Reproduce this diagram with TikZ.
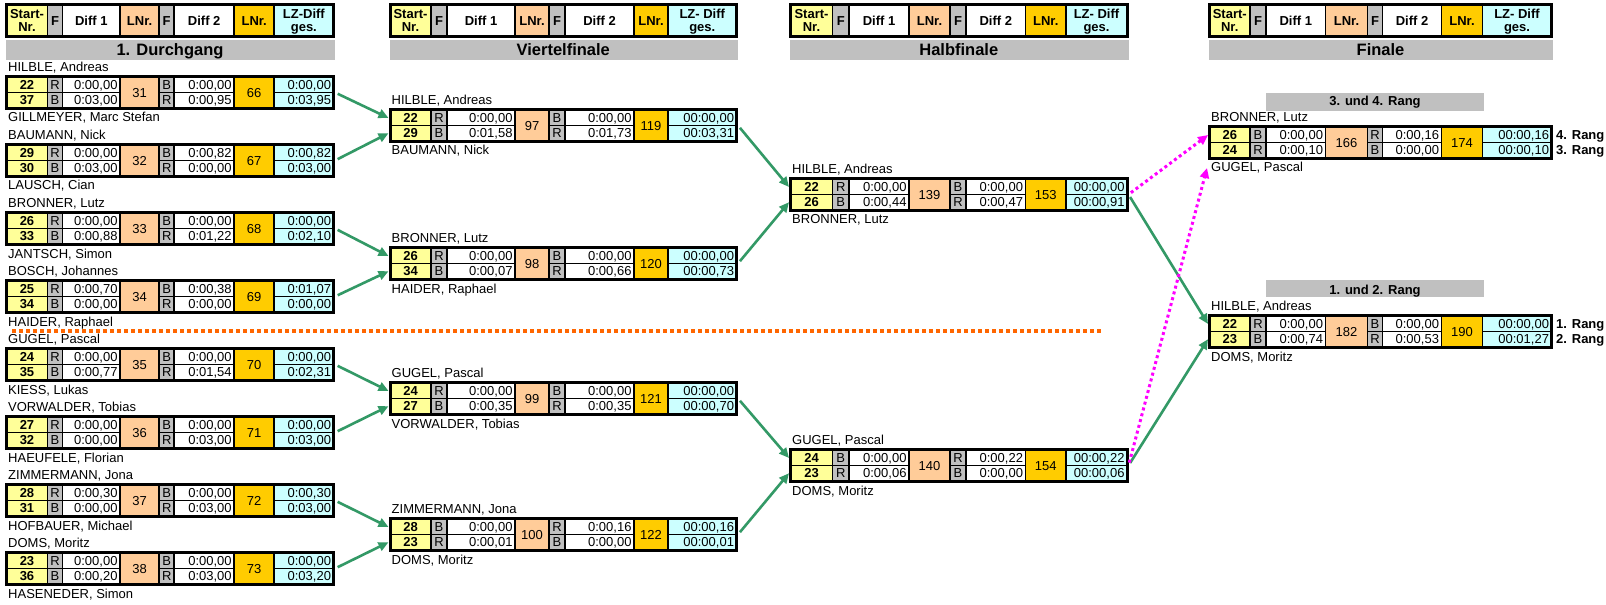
\documentclass[tikz,border=0pt]{standalone}
\usepackage{fontspec}
\setmainfont{Liberation Sans}
\usetikzlibrary{arrows.meta,calc}
\definecolor{cyel}{HTML}{FFFF99}
\definecolor{cgry}{HTML}{C0C0C0}
\definecolor{cora}{HTML}{FFCC99}
\definecolor{cgld}{HTML}{FFCC00}
\definecolor{ccya}{HTML}{CCFFFF}
\definecolor{cgrn}{HTML}{339966}
\definecolor{cmag}{HTML}{FF00FF}
\definecolor{corg}{HTML}{FF6600}
\newcommand\fsz{\fontsize{13bp}{14bp}\selectfont}
\newcommand\fst{\fontsize{16.5bp}{18bp}\selectfont\bfseries}
\newcommand\setcols[9]{\def\pXa{#1}\def\pXb{#2}\def\pXc{#3}\def\pXd{#4}\def\pXe{#5}\def\pXf{#6}\def\pXg{#7}\def\pXh{#8}\def\pXi{#9}}
\newcommand\cellfill[5]{\fill[#1] ({#2+0.75},{#4+0.75}) rectangle ({#3-0.75},{#5-0.75});}
\newcommand\mframe[2]{%
  \pgfmathsetmacro\pBw{\pXi-\pXa}%
  \node[fill=black, inner sep=0pt, outer sep=0pt, minimum width=\pBw bp, minimum height=35bp, anchor=north west] (#1) at (\pXa,#2) {};%
  \pgfmathsetmacro\pYl{\pXa+2.25}\pgfmathsetmacro\pYr{\pXi-2.25}%
  \pgfmathsetmacro\pYt{#2+2.25}\pgfmathsetmacro\pYb{#2+32.75}\pgfmathsetmacro\pYm{#2+17.5}%
}
\newcommand\rowfill[2]{%
  \cellfill{cyel}{\pYl}{\pXb}{#1}{#2}
  \cellfill{cgry}{\pXb}{\pXc}{#1}{#2}
  \cellfill{white}{\pXc}{\pXd}{#1}{#2}
  \cellfill{cgry}{\pXe}{\pXf}{#1}{#2}
  \cellfill{white}{\pXf}{\pXg}{#1}{#2}
  \cellfill{ccya}{\pXh}{\pYr}{#1}{#2}
}
\newcommand\mheader[3]{%
  \mframe{#1}{3}%
  \rowfill{\pYt}{\pYb}
  \cellfill{cora}{\pXd}{\pXe}{\pYt}{\pYb}
  \cellfill{cgld}{\pXg}{\pXh}{\pYt}{\pYb}
  \node[txtb,anchor=base] (#1-a1) at ({(\pXa+\pXb)/2+0.75},18.5) {Start-};
  \node[txtb,anchor=base] (#1-a2) at ({(\pXa+\pXb)/2+0.75},32) {Nr.};
  \node[txtb,anchor=base] (#1-b) at ({(\pXb+\pXc)/2},25.5) {F};
  \node[txtb,anchor=base] (#1-c) at ({(\pXc+\pXd)/2},25.5) {Diff 1};
  \node[txtb,anchor=base] (#1-d) at ({(\pXd+\pXe)/2},25.5) {LNr.};
  \node[txtb,anchor=base] (#1-e) at ({(\pXe+\pXf)/2},25.5) {F};
  \node[txtb,anchor=base] (#1-f) at ({(\pXf+\pXg)/2},25.5) {Diff 2};
  \node[txtb,anchor=base] (#1-g) at ({(\pXg+\pXh)/2},25.5) {LNr.};
  \node[txtb,anchor=base] (#1-h1) at ({(\pXh+\pXi)/2-0.75},18.5) {#3};
  \node[txtb,anchor=base] (#1-h2) at ({(\pXh+\pXi)/2-0.75},31.5) {ges.};
  \pgfmathsetmacro\pBw{\pXi-\pXa-1}%
  \node[fill=cgry, inner sep=0pt, outer sep=0pt, minimum width=\pBw bp, minimum height=20bp, anchor=north west] (#1-band) at ({\pXa+1},40) {};
  \node[inner sep=0pt, font=\fst, anchor=base] (#1-title) at ({(\pXa+\pXi)/2},56) {#2};
}
\newcommand\mblock[6]{%
  \mframe{#1}{#2}%
  \rowfill{\pYt}{\pYm}
  \rowfill{\pYm}{\pYb}
  \cellfill{cora}{\pXd}{\pXe}{\pYt}{\pYb}
  \cellfill{cgld}{\pXg}{\pXh}{\pYt}{\pYb}
  \node[txt, anchor=base west] (#1-n1) at ({\pXa+3},{#2-3.3}) {#3};
  \node[txt, anchor=base west] (#1-n2) at ({\pXa+3},{#2+47}) {#4};
  \node[txt, anchor=base] (#1-l1) at ({(\pXd+\pXe)/2},{#2+22.1}) {#5};
  \node[txt, anchor=base] (#1-l2) at ({(\pXg+\pXh)/2},{#2+22.1}) {#6};
}
\newcommand\mrow[9]{%
  \pgfmathsetmacro\pYy{#3+14.5+(#2-1)*15.2}%
  \node[txtb, anchor=base] (#1-s#2) at ({(\pXa+\pXb)/2+0.75},\pYy) {#4};
  \node[txt, anchor=base] (#1-f#2) at ({(\pXb+\pXc)/2},\pYy) {#5};
  \node[txt, anchor=base east] (#1-d#2) at ({\pXd-2.3},\pYy) {#6};
  \node[txt, anchor=base] (#1-g#2) at ({(\pXe+\pXf)/2},\pYy) {#7};
  \node[txt, anchor=base east] (#1-e#2) at ({\pXg-2.3},\pYy) {#8};
  \node[txt, anchor=base east] (#1-z#2) at ({\pXi-3.8},\pYy) {#9};
}
\tikzset{
  txt/.style={inner sep=0pt, font=\fsz},
  txtb/.style={inner sep=0pt, font=\fsz\bfseries},
  garr/.style={draw=cgrn, line width=2.6bp, -{Triangle[length=10bp,width=9bp]}, shorten <=3bp},
  marr/.style={draw=cmag, line width=3bp, dash pattern=on 3bp off 3bp, -{Triangle[length=10bp,width=9bp]}, shorten <=3bp},
  oline/.style={draw=corg, line width=3.7bp, dash pattern=on 4bp off 3bp},
  bandbox/.style={fill=cgry, inner sep=0pt, outer sep=0pt, minimum width=218bp, anchor=north west},
}
\begin{document}
\begin{tikzpicture}[x=1bp,y=-1bp]
\useasboundingbox (0,0) rectangle (1606,605);
\fill[white] (0,0) rectangle (1606,605);
% ---------- column 1
\setcols{5}{47.5}{62.5}{120}{159.2}{174.2}{234.2}{274.2}{335}
\mheader{hA}{1. Durchgang}{LZ-Diff}
\mblock{r31}{75}{HILBLE, Andreas}{GILLMEYER, Marc Stefan}{31}{66}
\mrow{r31}{1}{75}{22}{R}{0:00,00}{B}{0:00,00}{0:00,00}
\mrow{r31}{2}{75}{37}{B}{0:03,00}{R}{0:00,95}{0:03,95}
\mblock{r32}{143}{BAUMANN, Nick}{LAUSCH, Cian}{32}{67}
\mrow{r32}{1}{143}{29}{R}{0:00,00}{B}{0:00,82}{0:00,82}
\mrow{r32}{2}{143}{30}{B}{0:03,00}{R}{0:00,00}{0:03,00}
\mblock{r33}{211}{BRONNER, Lutz}{JANTSCH, Simon}{33}{68}
\mrow{r33}{1}{211}{26}{R}{0:00,00}{B}{0:00,00}{0:00,00}
\mrow{r33}{2}{211}{33}{B}{0:00,88}{R}{0:01,22}{0:02,10}
\mblock{r34}{279}{BOSCH, Johannes}{HAIDER, Raphael}{34}{69}
\mrow{r34}{1}{279}{25}{R}{0:00,70}{B}{0:00,38}{0:01,07}
\mrow{r34}{2}{279}{34}{B}{0:00,00}{R}{0:00,00}{0:00,00}
\mblock{r35}{347}{GUGEL, Pascal}{KIESS, Lukas}{35}{70}
\mrow{r35}{1}{347}{24}{R}{0:00,00}{B}{0:00,00}{0:00,00}
\mrow{r35}{2}{347}{35}{B}{0:00,77}{R}{0:01,54}{0:02,31}
\mblock{r36}{415}{VORWALDER, Tobias}{HAEUFELE, Florian}{36}{71}
\mrow{r36}{1}{415}{27}{R}{0:00,00}{B}{0:00,00}{0:00,00}
\mrow{r36}{2}{415}{32}{B}{0:00,00}{R}{0:03,00}{0:03,00}
\mblock{r37}{483}{ZIMMERMANN, Jona}{HOFBAUER, Michael}{37}{72}
\mrow{r37}{1}{483}{28}{R}{0:00,30}{B}{0:00,00}{0:00,30}
\mrow{r37}{2}{483}{31}{B}{0:00,00}{R}{0:03,00}{0:03,00}
\mblock{r38}{551}{DOMS, Moritz}{HASENEDER, Simon}{38}{73}
\mrow{r38}{1}{551}{23}{R}{0:00,00}{B}{0:00,00}{0:00,00}
\mrow{r38}{2}{551}{36}{B}{0:00,20}{R}{0:03,00}{0:03,20}
% ---------- column 2
\setcols{388.5}{431}{447}{515}{549}{565}{634}{668}{738}
\mheader{hB}{Viertelfinale}{LZ- Diff}
\mblock{q97}{108}{HILBLE, Andreas}{BAUMANN, Nick}{97}{119}
\mrow{q97}{1}{108}{22}{R}{0:00,00}{B}{0:00,00}{00:00,00}
\mrow{q97}{2}{108}{29}{B}{0:01,58}{R}{0:01,73}{00:03,31}
\mblock{q98}{246}{BRONNER, Lutz}{HAIDER, Raphael}{98}{120}
\mrow{q98}{1}{246}{26}{R}{0:00,00}{B}{0:00,00}{00:00,00}
\mrow{q98}{2}{246}{34}{B}{0:00,07}{R}{0:00,66}{00:00,73}
\mblock{q99}{381}{GUGEL, Pascal}{VORWALDER, Tobias}{99}{121}
\mrow{q99}{1}{381}{24}{R}{0:00,00}{B}{0:00,00}{00:00,00}
\mrow{q99}{2}{381}{27}{B}{0:00,35}{R}{0:00,35}{00:00,70}
\mblock{q100}{517}{ZIMMERMANN, Jona}{DOMS, Moritz}{100}{122}
\mrow{q100}{1}{517}{28}{B}{0:00,00}{R}{0:00,16}{00:00,16}
\mrow{q100}{2}{517}{23}{R}{0:00,01}{B}{0:00,00}{00:00,01}
% ---------- column 3
\setcols{789}{832.5}{849}{909}{950}{966}{1025.5}{1066}{1128.5}
\mheader{hC}{Halbfinale}{LZ- Diff}
\mblock{h139}{177}{HILBLE, Andreas}{BRONNER, Lutz}{139}{153}
\mrow{h139}{1}{177}{22}{R}{0:00,00}{B}{0:00,00}{00:00,00}
\mrow{h139}{2}{177}{26}{B}{0:00,44}{R}{0:00,47}{00:00,91}
\mblock{h140}{448}{GUGEL, Pascal}{DOMS, Moritz}{140}{154}
\mrow{h140}{1}{448}{24}{B}{0:00,00}{R}{0:00,22}{00:00,22}
\mrow{h140}{2}{448}{23}{R}{0:00,06}{B}{0:00,00}{00:00,06}
% ---------- column 4
\setcols{1208}{1250}{1266}{1325.5}{1367.5}{1382.5}{1441.5}{1482.5}{1553}
\mheader{hD}{Finale}{LZ- Diff}
\node[bandbox, minimum height=18bp] (b34) at (1266,93) {};
\node[txtb, anchor=base] (b34t) at (1375,106) {3. und 4. Rang};
\mblock{f166}{125}{BRONNER, Lutz}{GUGEL, Pascal}{166}{174}
\mrow{f166}{1}{125}{26}{B}{0:00,00}{R}{0:00,16}{00:00,16}
\mrow{f166}{2}{125}{24}{R}{0:00,10}{B}{0:00,00}{00:00,10}
\node[txtb, anchor=base west] (rg4) at (1556,139.5) {4. Rang};
\node[txtb, anchor=base west] (rg3) at (1556,154.7) {3. Rang};
\node[bandbox, minimum height=17bp] (b12) at (1266,280) {};
\node[txtb, anchor=base] (b12t) at (1375,294.5) {1. und 2. Rang};
\mblock{f182}{314}{HILBLE, Andreas}{DOMS, Moritz}{182}{190}
\mrow{f182}{1}{314}{22}{R}{0:00,00}{B}{0:00,00}{00:00,00}
\mrow{f182}{2}{314}{23}{B}{0:00,74}{R}{0:00,53}{00:01,27}
\node[txtb, anchor=base west] (rg1) at (1556,328.5) {1. Rang};
\node[txtb, anchor=base west] (rg2) at (1556,343.7) {2. Rang};
% ---------- separator line
\coordinate (dl) at (12,331);
\coordinate (dr) at (1103,331);
\draw[oline] (dl) -- (dr);
% ---------- connectors
\draw[garr] (r31.east) -- (q97.west |- q97-s1);
\draw[garr] (r32.east) -- (q97.west |- q97-s2);
\draw[garr] (r33.east) -- (q98.west |- q98-s1);
\draw[garr] (r34.east) -- (q98.west |- q98-s2);
\draw[garr] (r35.east) -- (q99.west |- q99-s1);
\draw[garr] (r36.east) -- (q99.west |- q99-s2);
\draw[garr] (r37.east) -- (q100.west |- q100-s1);
\draw[garr] (r38.east) -- (q100.west |- q100-s2);
\draw[garr] (q97.east) -- (h139.west |- h139-s1);
\draw[garr] (q98.east) -- (h139.west |- h139-s2);
\draw[garr] (q99.east) -- (h140.west |- h140-s1);
\draw[garr] (q100.east) -- (h140.west |- h140-s2);
\draw[garr] (h139.east) -- (f182.west |- f182-s1);
\draw[garr] (h140.east) -- (f182.west |- f182-s2);
\coordinate (mtip) at ($(f166.south west)+(-1,8)$);
\draw[marr] (h139.east) -- (f166.west |- f166-s1);
\draw[marr] (h140.east) -- (mtip);
\end{tikzpicture}
\end{document}
